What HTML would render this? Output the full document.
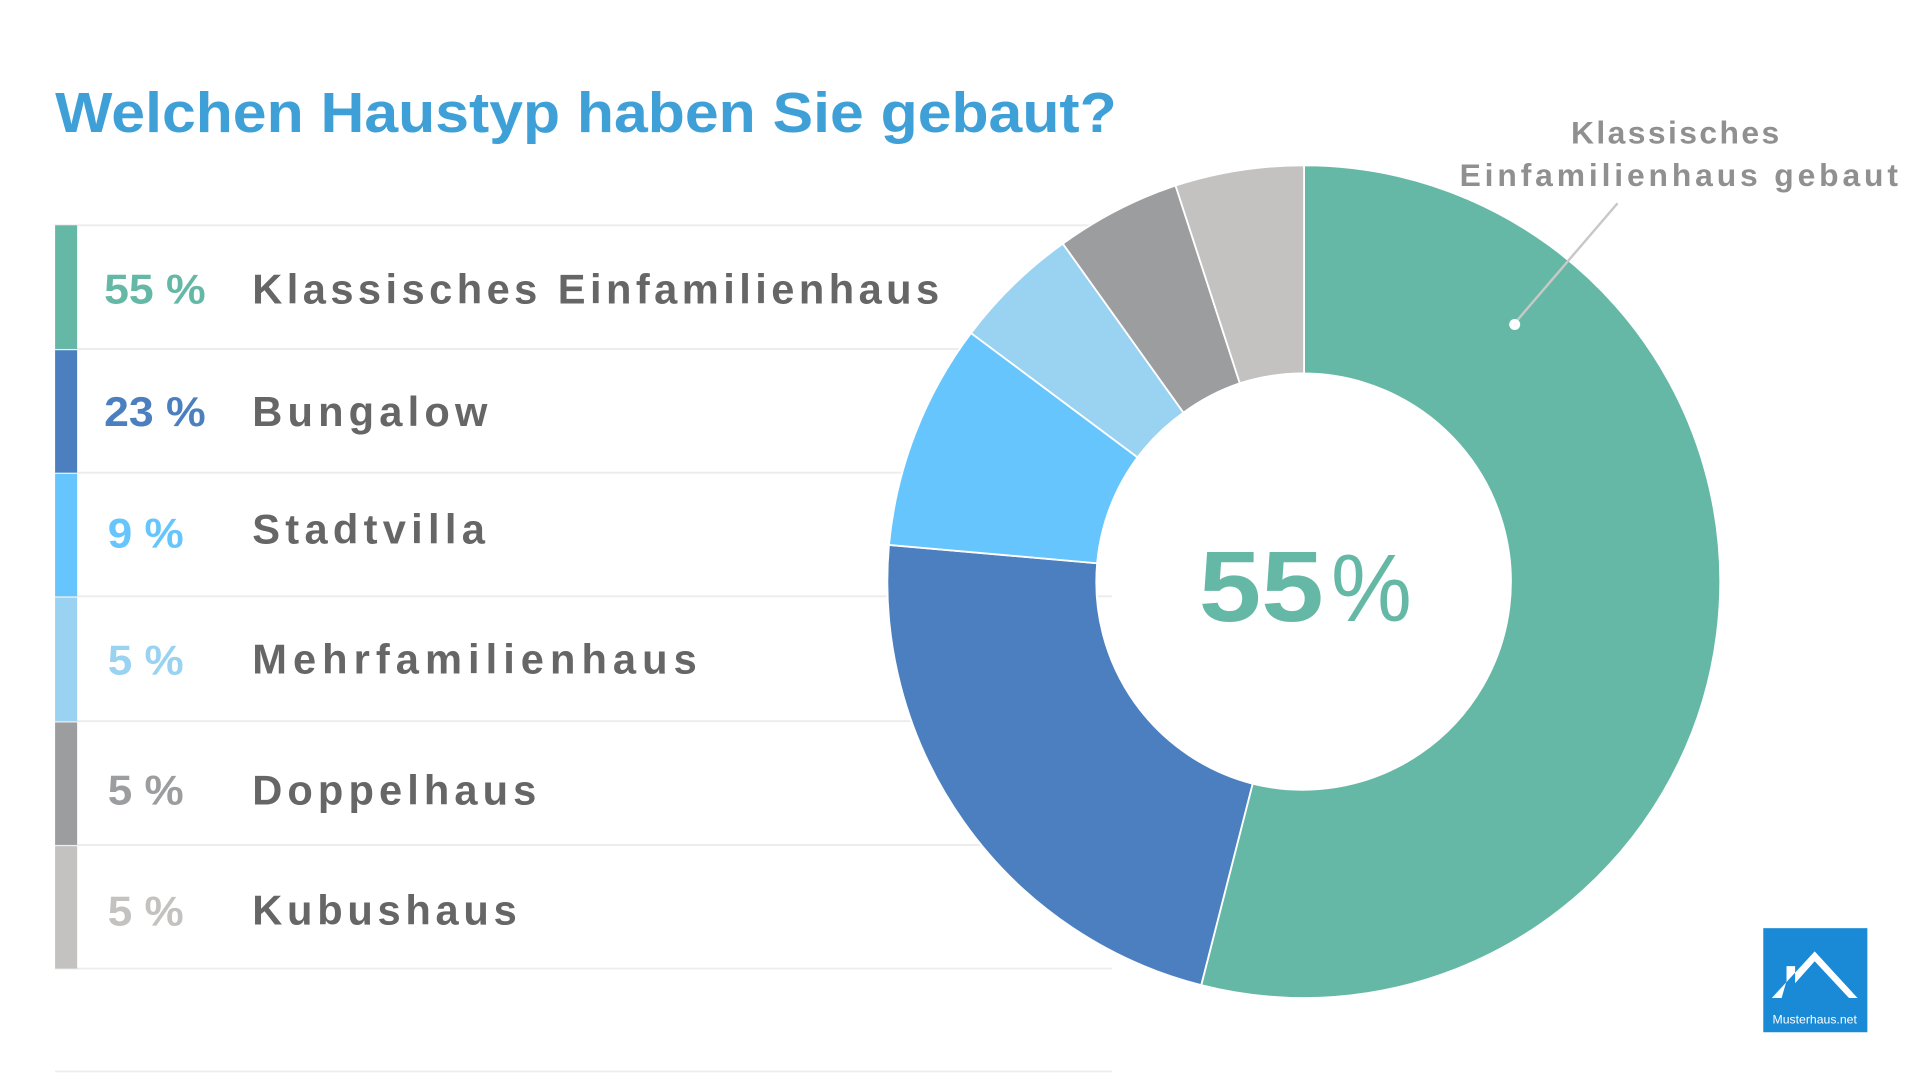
<!DOCTYPE html>
<html><head><meta charset="utf-8"><style>
html,body{margin:0;padding:0;background:#fff;overflow:hidden}
svg{display:block}
text{font-family:"Liberation Sans",sans-serif}
</style></head><body>
<svg width="1920" height="1080" viewBox="0 0 1568 882" preserveAspectRatio="none">
<text x="45" y="108" font-size="46" font-weight="bold" fill="#3fa0d8" textLength="867" lengthAdjust="spacingAndGlyphs">Welchen Haustyp haben Sie gebaut?</text>
<g stroke="#ececec" stroke-width="1.5">
<line x1="45" y1="184" x2="908" y2="184"/><line x1="45" y1="285" x2="908" y2="285"/>
<line x1="45" y1="386" x2="908" y2="386"/><line x1="45" y1="487" x2="908" y2="487"/>
<line x1="45" y1="589" x2="908" y2="589"/><line x1="45" y1="690" x2="908" y2="690"/>
<line x1="45" y1="791" x2="908" y2="791"/><line x1="45" y1="875" x2="908" y2="875"/>
</g>
<rect x="45" y="184" width="18" height="101" fill="#66b8a6"/>
<rect x="45" y="286" width="18" height="100" fill="#4b7fbf"/>
<rect x="45" y="387" width="18" height="100" fill="#66c5fc"/>
<rect x="45" y="488" width="18" height="101" fill="#9ad2f2"/>
<rect x="45" y="590" width="18" height="100" fill="#9c9d9f"/>
<rect x="45" y="691" width="18" height="100" fill="#c3c2c1"/>
<g font-size="34" font-weight="bold">
<text x="85" y="248" fill="#66b8a6" textLength="83" lengthAdjust="spacingAndGlyphs">55 %</text>
<text x="85" y="348" fill="#4b7fbf" textLength="83" lengthAdjust="spacingAndGlyphs">23 %</text>
<text x="88" y="447" fill="#66c5fc" textLength="62" lengthAdjust="spacingAndGlyphs">9 %</text>
<text x="88" y="551" fill="#9ad2f2" textLength="62" lengthAdjust="spacingAndGlyphs">5 %</text>
<text x="88" y="657" fill="#9c9d9f" textLength="62" lengthAdjust="spacingAndGlyphs">5 %</text>
<text x="88" y="756" fill="#c3c2c1" textLength="62" lengthAdjust="spacingAndGlyphs">5 %</text>
<g fill="#666">
<text x="206" y="248" textLength="561" lengthAdjust="spacing">Klassisches Einfamilienhaus</text>
<text x="206" y="348" textLength="192" lengthAdjust="spacing">Bungalow</text>
<text x="206" y="444" textLength="190" lengthAdjust="spacing">Stadtvilla</text>
<text x="206" y="550" textLength="363" lengthAdjust="spacing">Mehrfamilienhaus</text>
<text x="206" y="657" textLength="232" lengthAdjust="spacing">Doppelhaus</text>
<text x="206" y="755" textLength="216" lengthAdjust="spacing">Kubushaus</text>
</g></g>
<g stroke="#fff" stroke-width="1.5">
<path d="M1065,135 A340,340 0 1 1 981,804.5 L1023,640 A170,170 0 1 0 1065,305 Z" fill="#66b8a6"/>
<path d="M981,804.5 A340,340 0 0 1 726,445 L896,460 A170,170 0 0 0 1023,640 Z" fill="#4b7fbf"/>
<path d="M726,445 A340,340 0 0 1 793,272 L929,373.5 A170,170 0 0 0 896,460 Z" fill="#66c5fc"/>
<path d="M793,272 A340,340 0 0 1 868,199 L966.5,337 A170,170 0 0 0 929,373.5 Z" fill="#9ad2f2"/>
<path d="M868,199 A340,340 0 0 1 960,151.5 L1012.5,313 A170,170 0 0 0 966.5,337 Z" fill="#9c9d9f"/>
<path d="M960,151.5 A340,340 0 0 1 1065,135 L1065,305 A170,170 0 0 0 1012.5,313 Z" fill="#c3c2c1"/>
</g>
<text x="979" y="507" font-size="82" font-weight="bold" fill="#66b8a6" textLength="102" lengthAdjust="spacingAndGlyphs">55</text>
<text x="1087" y="507" font-size="78" fill="#66b8a6" textLength="66" lengthAdjust="spacingAndGlyphs">%</text>
<g font-size="26" font-weight="bold" fill="#909090" text-anchor="middle">
<text x="1368" y="117" textLength="170" lengthAdjust="spacing">Klassisches</text>
<text x="1371" y="152" textLength="358" lengthAdjust="spacing">Einfamilienhaus gebaut</text>
</g>
<line x1="1321" y1="166" x2="1237" y2="264" stroke="#c8c8c8" stroke-width="2"/>
<circle cx="1237" cy="265" r="4.5" fill="#fff"/>
<rect x="1440" y="758" width="85" height="85" fill="#1a8ad6"/>
<path d="M1447,815 L1482,777 L1517,815 L1510,815 L1482,785 L1466,803 L1466,789 L1459,789 L1459,801 L1455,815 Z" fill="#fff"/>
<text x="1482" y="836" font-size="10" fill="#fff" text-anchor="middle">Musterhaus.net</text>
</svg>
</body></html>
